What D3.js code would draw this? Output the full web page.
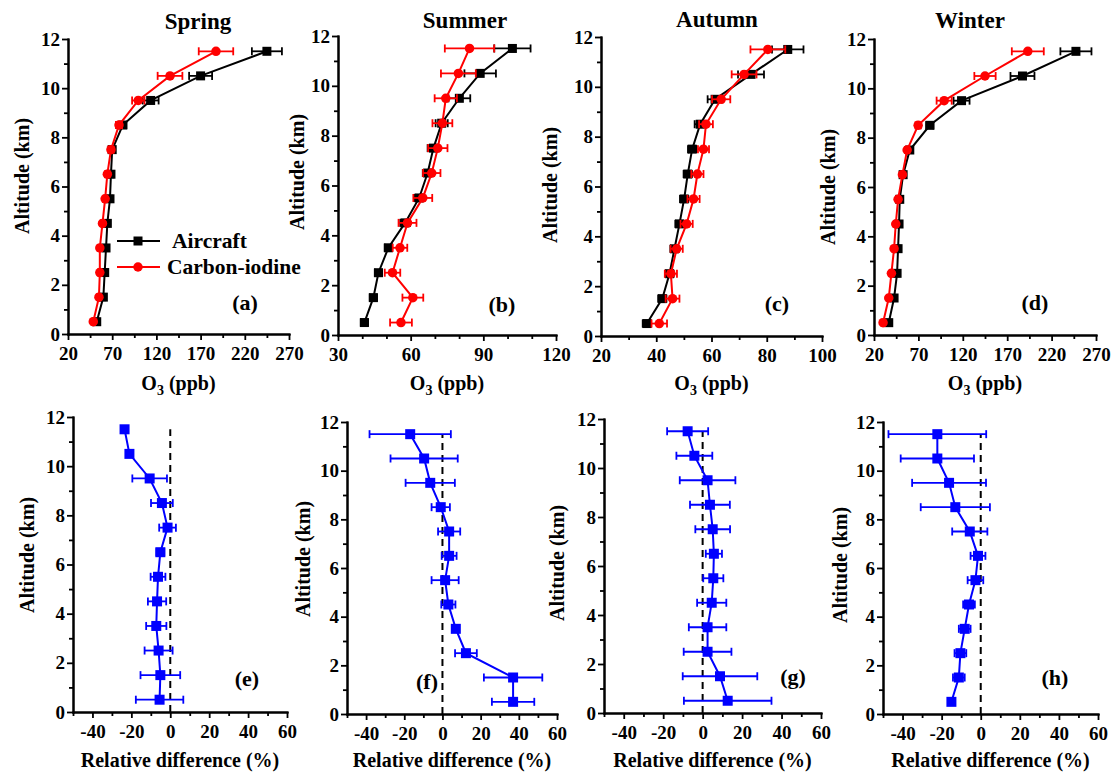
<!DOCTYPE html>
<html><head><meta charset="utf-8">
<script src="https://cdn.jsdelivr.net/npm/d3@7"></script>
</head><body style="margin:0">
<svg id="c" width="1116" height="774"></svg>
<script>
// ---------------- DATA ----------------
const altitudes = [0.5, 1.5, 2.5, 3.5, 4.5, 5.5, 6.5, 7.5, 8.5, 9.5, 10.5, 11.5];
const seasons = ["Spring", "Summer", "Autumn", "Winter"];
const seriesNames = ["Aircraft", "Carbon-iodine"];
const topLabels = ["(a)", "(b)", "(c)", "(d)"];
const bottomLabels = ["(e)", "(f)", "(g)", "(h)"];

const springAircraft    = [52.5, 60, 61.5, 63, 64.5, 67.5, 68.6, 70, 82, 113.5, 170, 245];
const springAircraftErr = [2, 2, 2, 2, 2, 2.5, 2.5, 3, 4, 9, 13, 17];
const springCI          = [48.6, 55, 56, 56, 59, 62, 64.5, 68.6, 77.7, 99.5, 135.4, 187.4];
const springCIErr       = [2, 2, 2, 2, 2, 2, 2.5, 3, 3.5, 7, 14, 19.5];

const summerAircraft    = [40.9, 44.6, 46.7, 50.8, 57.7, 63.5, 67, 69.4, 72.8, 80.1, 88.7, 102];
const summerAircraftErr = [1.5, 1.5, 1.5, 1.5, 2, 2, 2, 2.4, 2.5, 4.5, 6.5, 7.5];
const summerCI          = [56, 60.9, 52.5, 55.6, 58.7, 65, 68.7, 71.2, 73.1, 74.5, 79.7, 84.3];
const summerCIErr       = [4.5, 4.3, 3.2, 3, 3.7, 3.9, 3.6, 4, 4.1, 4.6, 7.2, 10.2];

const autumnAircraft    = [36.6, 42.2, 44.8, 46.6, 48.4, 50.1, 51.4, 53, 55.9, 61.3, 74.3, 87.6];
const autumnAircraftErr = [1.5, 1.5, 1.5, 1.5, 1.5, 1.5, 1.5, 1.5, 2, 2.7, 4.7, 5.7];
const autumnCI          = [41.1, 45.9, 45.3, 47.4, 51, 53.5, 54.9, 57.1, 58, 63.5, 71.8, 80.4];
const autumnCIErr       = [2.8, 2.5, 2.2, 2.2, 2.2, 2.2, 2.2, 2, 2.5, 3.3, 4.5, 6.3];

const winterAircraft    = [36.6, 42.6, 46, 47.1, 48.2, 49, 52.8, 60.3, 82.9, 118.6, 187.2, 247.4];
const winterAircraftErr = [2, 2, 2, 2, 2, 2, 2.5, 3, 4, 9, 13.5, 17.5];
const winterCI          = [30.2, 36.6, 39.6, 42.6, 44.5, 47.1, 52, 57.3, 69.7, 99, 145, 193.2];
const winterCIErr       = [2, 2, 2, 2, 2, 2, 2, 2.5, 3, 8.5, 12, 18];

const springDiff    = [-5.5, -5.1, -6, -7.2, -6.8, -6.3, -5.1, -1.4, -4.3, -10.6, -21, -23.5];
const springDiffErr = [12.2, 10.2, 7.2, 5.2, 4.7, 3.8, 2, 4.3, 5.6, 8.9, 1, 1];
const summerDiff    = [37, 37, 12.3, 7, 3.1, 1.4, 3.5, 3.5, -0.9, -6.4, -9.6, -16.9];
const summerDiffErr = [11.1, 15.3, 5.7, 1.5, 3.7, 7.1, 3.9, 5.8, 4.8, 12.9, 17.6, 21.3];
const autumnDiff    = [12.7, 8.8, 2.5, 2.5, 4.6, 5.4, 5.7, 5.1, 3.7, 2.5, -4.2, -7.6];
const autumnDiffErr = [22.2, 18.9, 12.1, 9.5, 7.4, 5.1, 4.1, 8.8, 10.1, 14.1, 9.1, 10.4];
const winterDiff    = [-15, -11.2, -10.4, -8.2, -6, -2.7, -1.4, -5.6, -13, -16.2, -22.2, -22.2];
const winterDiffErr = [1, 3, 3, 3, 3, 4, 3.8, 9, 17.7, 18.9, 18.75, 25];

const altTicks = [0, 2, 4, 6, 8, 10, 12];
const springTicks = [20, 70, 120, 170, 220, 270];
const summerTicks = [30, 60, 90, 120];
const autumnTicks = [20, 40, 60, 80, 100];
const winterTicks = [20, 70, 120, 170, 220, 270];
const diffTicks = [-40, -20, 0, 20, 40, 60];

// ---------------- DRAW ----------------
const svg = d3.select("#c");
const BLACK = "#000", RED = "#ff0000", BLUE = "#0000ff";

function setFont(sel, size) {
  sel.attr("font-family", "Liberation Serif").style("font-family", '"Liberation Serif"')
     .attr("font-weight", "bold").attr("font-size", size).attr("fill", "#000");
  return sel;
}
function txt(size) { return setFont(svg.append("text"), size); }

function styleAxis(g) {
  g.attr("font-family", null).attr("font-size", null);
  g.select(".domain").attr("stroke", "#000").attr("stroke-width", 2).attr("stroke-linecap", "square");
  g.selectAll(".tick line").attr("stroke", "#000").attr("stroke-width", 1.8);
  setFont(g.selectAll(".tick text"), 19);
}

function frame(o) {
  const x = d3.scaleLinear().domain(o.domain).range([o.x0, o.x1]);
  const y = d3.scaleLinear().domain([0, 12]).range([o.yb, o.yt]);
  const g = svg.append("g");
  g.append("g").attr("transform", `translate(0,${o.yb})`)
    .call(d3.axisBottom(x).tickValues(o.minor).tickSize(4).tickSizeOuter(0).tickFormat(""))
    .call(styleAxis);
  g.append("g").attr("transform", `translate(${o.x0},0)`)
    .call(d3.axisLeft(y).tickValues(d3.range(1, 12, 2)).tickSize(4).tickSizeOuter(0).tickFormat(""))
    .call(styleAxis);
  g.append("g").attr("transform", `translate(0,${o.yb})`)
    .call(d3.axisBottom(x).tickValues(o.ticks).tickSize(6).tickPadding(7).tickSizeOuter(0).tickFormat(d => String(d)))
    .call(styleAxis);
  g.append("g").attr("transform", `translate(${o.x0},0)`)
    .call(d3.axisLeft(y).tickValues(altTicks).tickSize(6).tickPadding(2).tickSizeOuter(0).tickFormat(d => String(d)))
    .call(styleAxis);
  txt(20).attr("transform", `translate(${o.ytx},${o.yty}) rotate(-90)`)
    .attr("text-anchor", "middle").attr("dy", "0.35em").text("Altitude (km)");
  return {x, y};
}

function series(sc, vals, errs, color, shape, size) {
  const g = svg.append("g");
  const pts = altitudes.map((a, i) => ({a, v: vals[i], e: errs[i]}));
  const cap = 4;
  pts.forEach(p => {
    const xl = sc.x(p.v - p.e), xr = sc.x(p.v + p.e), yy = sc.y(p.a);
    g.append("line").attr("x1", xl).attr("x2", xr).attr("y1", yy).attr("y2", yy)
      .attr("stroke", color).attr("stroke-width", 1.8);
    [xl, xr].forEach(xx => g.append("line").attr("x1", xx).attr("x2", xx)
      .attr("y1", yy - cap).attr("y2", yy + cap).attr("stroke", color).attr("stroke-width", 1.8));
  });
  g.append("path").datum(pts)
    .attr("d", d3.line().x(p => sc.x(p.v)).y(p => sc.y(p.a)))
    .attr("fill", "none").attr("stroke", color).attr("stroke-width", 2);
  pts.forEach(p => {
    if (shape === "square") {
      g.append("rect").attr("x", sc.x(p.v) - size / 2).attr("y", sc.y(p.a) - size / 2)
        .attr("width", size).attr("height", size).attr("fill", color);
    } else {
      g.append("circle").attr("cx", sc.x(p.v)).attr("cy", sc.y(p.a)).attr("r", size / 2).attr("fill", color);
    }
  });
}

function o3Title(cx, by) {
  const t = txt(20).attr("x", cx).attr("y", by).attr("text-anchor", "middle");
  t.append("tspan").text("O");
  t.append("tspan").attr("font-size", 14).attr("dy", 5).text("3");
  t.append("tspan").attr("dy", -5).text(" (ppb)");
}

const topCfg = [
  {x0: 68,  x1: 289,  yt: 39, yb: 334, domain: [20, 270], ticks: springTicks, minor: d3.range(45, 270, 50), ytx: 22,  yty: 176, tx: 198, ty: 29, lx: 245, ly: 310,
   a: springAircraft, ae: springAircraftErr, c: springCI, ce: springCIErr},
  {x0: 338, x1: 556,  yt: 36, yb: 335, domain: [30, 120], ticks: summerTicks, minor: [40, 50, 70, 80, 100, 110], ytx: 297, yty: 172, tx: 465, ty: 28, lx: 502, ly: 312,
   a: summerAircraft, ae: summerAircraftErr, c: summerCI, ce: summerCIErr},
  {x0: 601, x1: 822,  yt: 37, yb: 336, domain: [20, 100], ticks: autumnTicks, minor: [30, 50, 70, 90], ytx: 550, yty: 185, tx: 717, ty: 27, lx: 777, ly: 311,
   a: autumnAircraft, ae: autumnAircraftErr, c: autumnCI, ce: autumnCIErr},
  {x0: 874, x1: 1096, yt: 39, yb: 335, domain: [20, 270], ticks: winterTicks, minor: d3.range(45, 270, 50), ytx: 828, yty: 187, tx: 970, ty: 28, lx: 1035, ly: 310,
   a: winterAircraft, ae: winterAircraftErr, c: winterCI, ce: winterCIErr}
];

topCfg.forEach((o, i) => {
  const sc = frame(o);
  series(sc, o.a, o.ae, BLACK, "square", 9);
  series(sc, o.c, o.ce, RED, "circle", 9.5);
  txt(23).attr("x", o.tx).attr("y", o.ty).attr("text-anchor", "middle").text(seasons[i]);
  txt(22).attr("x", o.lx).attr("y", o.ly).attr("text-anchor", "middle").text(topLabels[i]);
  o3Title((o.x0 + o.x1) / 2, 390);
});

[[BLACK, "square", 241, 172], [RED, "circle", 267, 167]].forEach((d, i) => {
  svg.append("line").attr("x1", 117).attr("x2", 160).attr("y1", d[2]).attr("y2", d[2]).attr("stroke", d[0]).attr("stroke-width", 2);
  if (d[1] === "square") svg.append("rect").attr("x", 138 - 4.5).attr("y", d[2] - 4.5).attr("width", 9).attr("height", 9).attr("fill", d[0]);
  else svg.append("circle").attr("cx", 138).attr("cy", d[2]).attr("r", 4.75).attr("fill", d[0]);
  txt(21.5).attr("x", d[3]).attr("y", d[2] + 7).text(seriesNames[i]);
});

const botCfg = [
  {x0: 73,  x1: 287,  yt: 417, yb: 712, ytx: 27,  yty: 555, lx: 247,  ly: 686, d: springDiff, e: springDiffErr},
  {x0: 347, x1: 557,  yt: 422, yb: 714, ytx: 303, yty: 559, lx: 427,  ly: 689, d: summerDiff, e: summerDiffErr},
  {x0: 604, x1: 821,  yt: 419, yb: 713, ytx: 557, yty: 563, lx: 793,  ly: 684, d: autumnDiff, e: autumnDiffErr},
  {x0: 883, x1: 1098, yt: 422, yb: 714, ytx: 840, yty: 565, lx: 1055, ly: 685, d: winterDiff, e: winterDiffErr}
];

botCfg.forEach((o, i) => {
  o.domain = [-50, 60]; o.ticks = diffTicks; o.minor = [-50, -30, -10, 10, 30, 50];
  const sc = frame(o);
  svg.append("line").attr("x1", sc.x(0)).attr("x2", sc.x(0)).attr("y1", sc.y(0)).attr("y2", sc.y(11.5))
    .attr("stroke", "#000").attr("stroke-width", 2).attr("stroke-dasharray", "7,5");
  series(sc, o.d, o.e, BLUE, "square", 10);
  txt(22).attr("x", o.lx).attr("y", o.ly).attr("text-anchor", "middle").text(bottomLabels[i]);
  txt(20).attr("x", (o.x0 + o.x1) / 2).attr("y", 767).attr("text-anchor", "middle").text("Relative difference (%)");
});
</script>
</body></html>
